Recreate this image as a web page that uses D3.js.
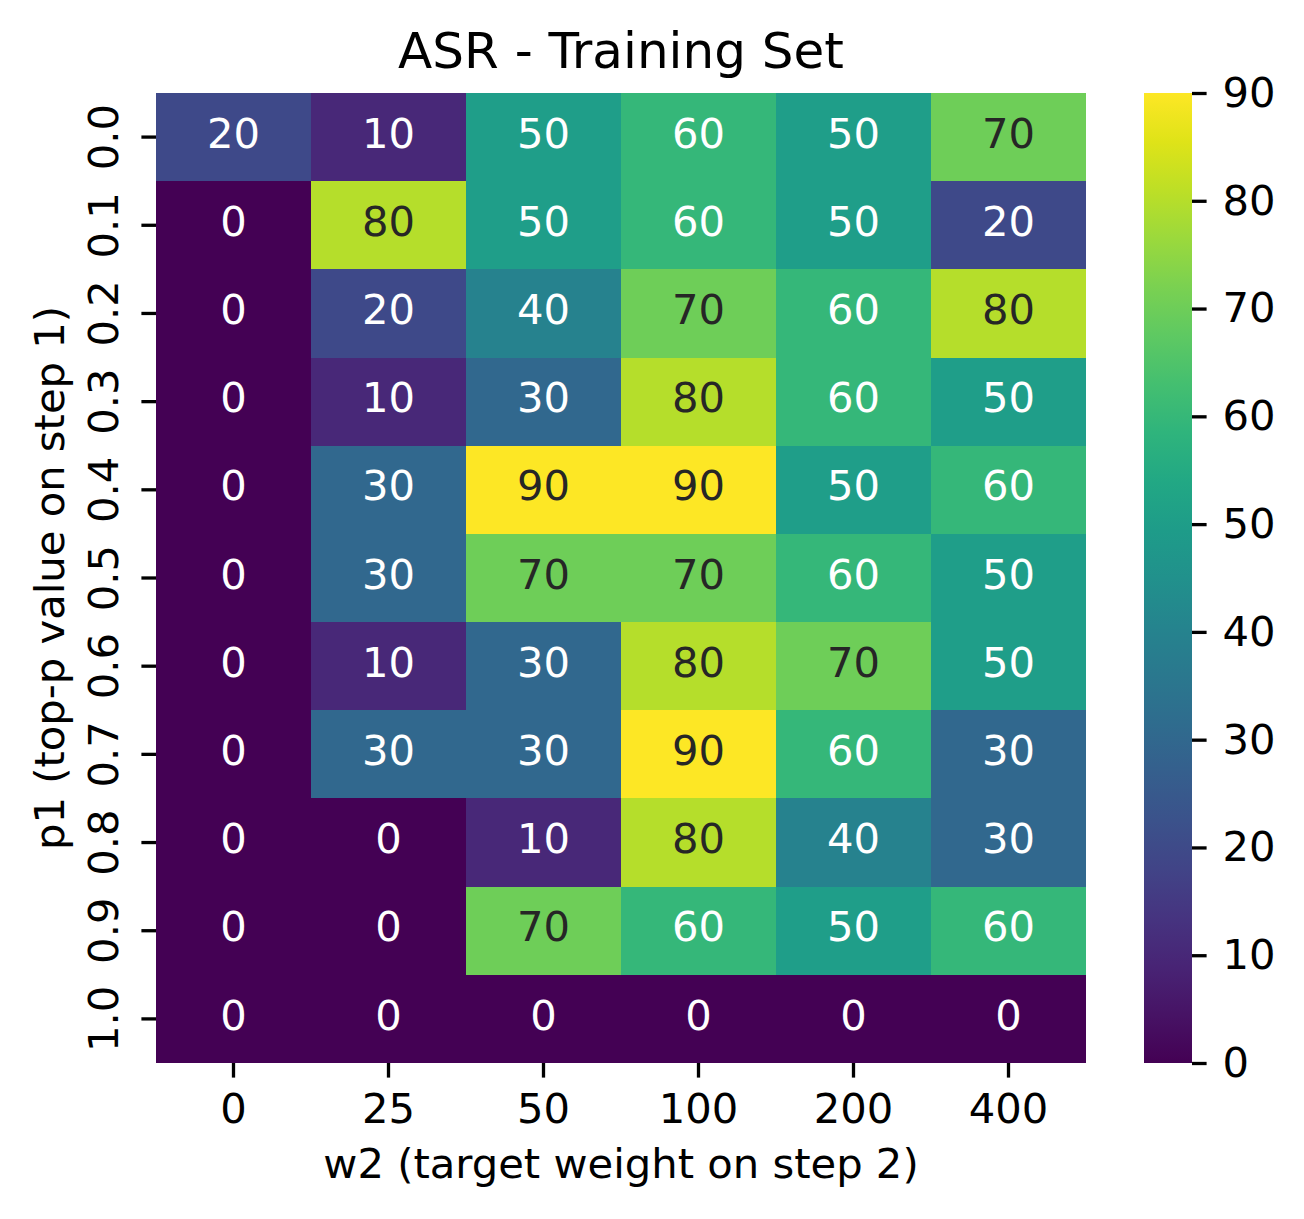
<!DOCTYPE html>
<html>
<head>
<meta charset="utf-8">
<title>ASR - Training Set</title>
<script src="https://cdnjs.cloudflare.com/ajax/libs/d3/7.8.5/d3.min.js"></script>
<style>
body { margin: 0; background: white; }
svg text { font-family: "DejaVu Sans", sans-serif; fill: black; }
.tick line { stroke: black; stroke-width: 3.3px; }
.domain { display: none; }
.cell { shape-rendering: crispEdges; }
</style>
</head>
<body>
<svg id="vis" width="1304" height="1219"></svg>
<script>
// w2 values along x, p1 values along y
var w2Labels = ['0', '25', '50', '100', '200', '400'];
var p1Labels = ['0.0', '0.1', '0.2', '0.3', '0.4', '0.5', '0.6', '0.7', '0.8', '0.9', '1.0'];
var asr = [
  [20, 10, 50, 60, 50, 70],
  [0, 80, 50, 60, 50, 20],
  [0, 20, 40, 70, 60, 80],
  [0, 10, 30, 80, 60, 50],
  [0, 30, 90, 90, 50, 60],
  [0, 30, 70, 70, 60, 50],
  [0, 10, 30, 80, 70, 50],
  [0, 30, 30, 90, 60, 30],
  [0, 0, 10, 80, 40, 30],
  [0, 0, 70, 60, 50, 60],
  [0, 0, 0, 0, 0, 0]
];
var cbarTicks = [0, 10, 20, 30, 40, 50, 60, 70, 80, 90];

var svg = d3.select('#vis');
var plot = {left: 156, top: 93, right: 1086, bottom: 1063};
var cbar = {left: 1144, right: 1192};
var fs = 41.7;
var tickLen = 14.6;

var x = d3.scaleBand().domain(w2Labels).range([plot.left, plot.right]);
var y = d3.scaleBand().domain(p1Labels).range([plot.top, plot.bottom]);
var vmin = 0, vmax = 90;
var color = d3.scaleSequential(d3.interpolateViridis).domain([vmin, vmax]);

function luminance(c) {
  var rgb = d3.rgb(c);
  var ch = [rgb.r, rgb.g, rgb.b].map(function (v) {
    v = v / 255;
    return v <= 0.03928 ? v / 12.92 : Math.pow((v + 0.055) / 1.055, 2.4);
  });
  return 0.2126 * ch[0] + 0.7152 * ch[1] + 0.0722 * ch[2];
}

var cells = [];
asr.forEach(function (row, i) {
  row.forEach(function (v, j) {
    cells.push({p1: p1Labels[i], w2: w2Labels[j], v: v});
  });
});

var g = svg.append('g');
g.selectAll('rect.cell')
  .data(cells).enter().append('rect')
    .attr('class', 'cell')
    .attr('x', d => Math.round(x(d.w2)))
    .attr('y', d => Math.round(y(d.p1)))
    .attr('width', d => Math.round(x(d.w2) + x.bandwidth()) - Math.round(x(d.w2)))
    .attr('height', d => Math.round(y(d.p1) + y.bandwidth()) - Math.round(y(d.p1)))
    .attr('fill', d => color(d.v));

// matplotlib centres the full text box, so digits sit a little high
g.selectAll('text.annot')
  .data(cells).enter().append('text')
    .attr('class', 'annot')
    .attr('x', d => x(d.w2) + x.bandwidth() / 2)
    .attr('y', d => y(d.p1) + y.bandwidth() / 2)
    .attr('dy', '0.255em')
    .attr('text-anchor', 'middle')
    .style('font-size', fs + 'px')
    .style('fill', d => luminance(color(d.v)) > 0.408 ? '#262626' : '#ffffff')
    .text(d => d.v);

// x axis
var xAxis = svg.append('g')
  .attr('transform', `translate(0, ${plot.bottom})`)
  .call(d3.axisBottom(x).tickSize(tickLen).tickPadding(16));
xAxis.selectAll('text').style('font-size', fs + 'px').attr('dy', '0.71em');

// y axis with vertical labels
var yAxis = svg.append('g')
  .attr('transform', `translate(${plot.left}, 0)`)
  .call(d3.axisLeft(y).tickSize(tickLen).tickFormat(''));
yAxis.selectAll('.tick').append('text')
  .attr('transform', 'translate(-38, 0) rotate(-90)')
  .attr('text-anchor', 'middle')
  .style('font-size', fs + 'px')
  .text(d => d);

// colorbar
var cy = d3.scaleLinear().domain([vmin, vmax]).range([plot.bottom, plot.top]);
var defs = svg.append('defs');
var grad = defs.append('linearGradient')
  .attr('id', 'cbgrad')
  .attr('x1', 0).attr('y1', 1).attr('x2', 0).attr('y2', 0);
d3.range(0, 1.0001, 0.05).forEach(function (t) {
  grad.append('stop')
    .attr('offset', t)
    .attr('stop-color', d3.interpolateViridis(t));
});
svg.append('rect')
  .attr('x', cbar.left)
  .attr('y', plot.top)
  .attr('width', cbar.right - cbar.left)
  .attr('height', plot.bottom - plot.top)
  .attr('fill', 'url(#cbgrad)');
var cAxis = svg.append('g')
  .attr('transform', `translate(${cbar.right}, 0)`)
  .call(d3.axisRight(cy).tickValues(cbarTicks).tickSize(tickLen).tickPadding(16));
cAxis.selectAll('text').style('font-size', fs + 'px');

// titles
svg.append('text')
  .attr('x', (plot.left + plot.right) / 2)
  .attr('y', 68)
  .attr('text-anchor', 'middle')
  .style('font-size', '50px')
  .text('ASR - Training Set');

svg.append('text')
  .attr('x', (plot.left + plot.right) / 2)
  .attr('y', 1178)
  .attr('text-anchor', 'middle')
  .style('font-size', fs + 'px')
  .text('w2 (target weight on step 2)');

svg.append('text')
  .attr('transform', `translate(64, ${(plot.top + plot.bottom) / 2}) rotate(-90)`)
  .attr('text-anchor', 'middle')
  .style('font-size', fs + 'px')
  .text('p1 (top-p value on step 1)');
</script>
</body>
</html>
